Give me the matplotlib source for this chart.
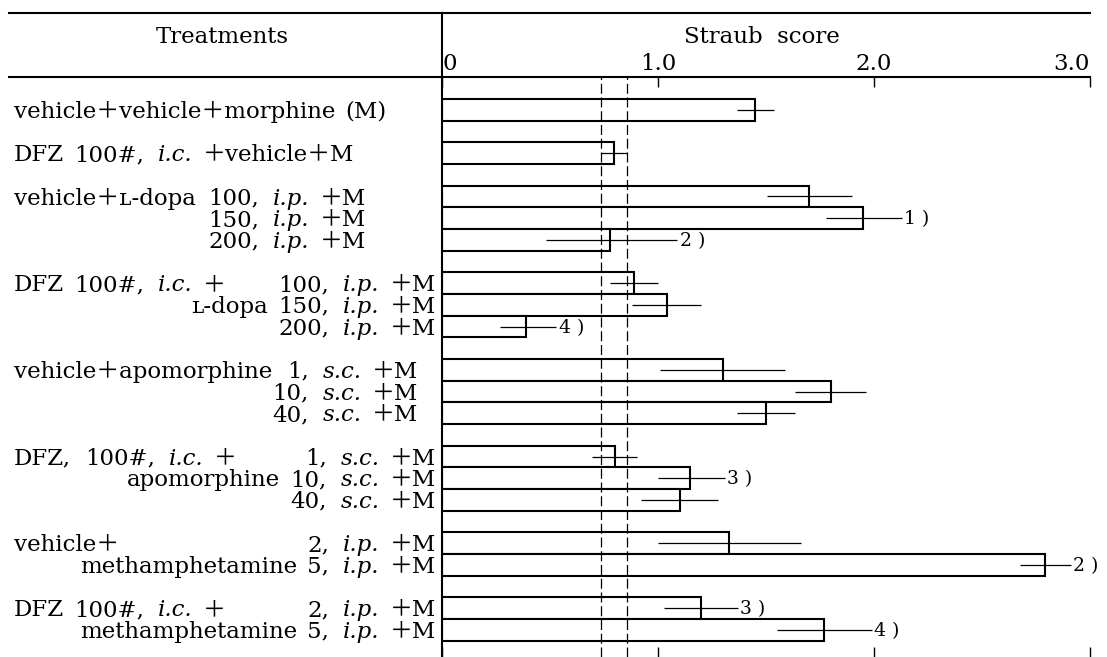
"""
Straub score chart: horizontal bars with SE lines, table-style labels
"""

import matplotlib
matplotlib.use('Agg')
import matplotlib.pyplot as plt
from matplotlib.lines import Line2D
from matplotlib.transforms import blended_transform_factory

W, H = 1107, 657
FAMILY = ['DejaVu Serif', 'Noto Sans CJK JP', 'DejaVu Sans']
FS = 16.5
SPACE_PX = 10   # wide word spacing of the original typesetting
COMMA_PX = 4    # extra room after a comma

# bar data (slot = row position, gaps between groups)
slots = [0, 2, 4, 5, 6, 8, 9, 10, 12, 13, 14, 16, 17, 18, 20, 21, 23, 24]
means = [1.45, 0.795, 1.70, 1.95, 0.78, 0.89, 1.04, 0.39, 1.30,
         1.80, 1.50, 0.80, 1.15, 1.10, 1.33, 2.79, 1.20, 1.77]
sems = [0.085, 0.061, 0.196, 0.17, 0.30, 0.11, 0.16, 0.12, 0.29,
        0.165, 0.135, 0.104, 0.15, 0.18, 0.33, 0.115, 0.17, 0.22]

# significance marks: bar index, text, end of the leader line
mark_idx = [3, 4, 7, 12, 15, 16, 17]
mark_text = ['1 )', '2 )', '4 )', '3 )', '2 )', '3 )', '4 )']
mark_end = [2.13, 1.09, 0.53, 1.31, 2.91, 1.37, 1.99]

tick_vals = [0, 1, 2, 3]
tick_labels = ['0', '1.0', '2.0', '3.0']

# row labels, italic parts between underscores
left_labels = {
    0: 'vehicle＋vehicle＋morphine (M)',
    2: 'DFZ 100#, _i.c._ ＋vehicle＋M',
    4: 'vehicle＋ʟ-dopa',
    8: 'DFZ 100#, _i.c._ ＋',
    12: 'vehicle＋apomorphine',
    16: 'DFZ, 100#, _i.c._ ＋',
    20: 'vehicle＋',
    23: 'DFZ 100#, _i.c._ ＋',
}
right_labels = {
    4: '100, _i.p._ ＋M',
    5: '150, _i.p._ ＋M',
    6: '200, _i.p._ ＋M',
    8: '100, _i.p._ ＋M',
    9: 'ʟ-dopa 150, _i.p._ ＋M',
    10: '200, _i.p._ ＋M',
    12: '1, _s.c._ ＋M',
    13: '10, _s.c._ ＋M',
    14: '40, _s.c._ ＋M',
    16: '1, _s.c._ ＋M',
    17: 'apomorphine 10, _s.c._ ＋M',
    18: '40, _s.c._ ＋M',
    20: '2, _i.p._ ＋M',
    21: 'methamphetamine 5, _i.p._ ＋M',
    23: '2, _i.p._ ＋M',
    24: 'methamphetamine 5, _i.p._ ＋M',
}

plt.rcParams['font.family'] = FAMILY

fig = plt.figure(figsize=(W / 100, H / 100), dpi=100)
fig.patch.set_facecolor('white')

X0, X3 = 442, 1090
Y_TOP_RULE, Y_HEAD = 12.7, 77.3
ax = fig.add_axes([X0 / W, 0, (X3 - X0) / W, 1 - Y_HEAD / H])

ax.barh(slots, means, height=1.0, left=0, facecolor='white',
        edgecolor='black', linewidth=1.5, zorder=2)

marks = dict(zip(mark_idx, zip(mark_text, mark_end)))
for i, (k, m, s) in enumerate(zip(slots, means, sems)):
    if i in marks:
        txt, end = marks[i]
        ax.hlines(k, m - s, end, color='black', linewidth=0.9, zorder=3)
        ax.text(end + 0.01, k + 0.05, txt, ha='left', va='center', fontsize=13.5)
    else:
        ax.hlines(k, m - s, m + s, color='black', linewidth=0.9, zorder=3)

# DFZ mean +/- SE band
for v in (means[1] - sems[1], means[1] + sems[1]):
    ax.axvline(v, color='black', linewidth=0.9, linestyle=(0, (8, 3)), zorder=4)

ax.set_xlim(0, 3)
ax.set_ylim(25.25, -1.5)
ax.set_yticks([])
ax.spines['right'].set_visible(False)
ax.spines['bottom'].set_visible(False)
ax.spines['top'].set_linewidth(1.5)
ax.spines['left'].set_linewidth(1.5)
ax.set_xticks(tick_vals, labels=tick_labels)
ax.tick_params(axis='x', top=True, bottom=True, labeltop=True, labelbottom=False,
               direction='in', length=7, width=1, pad=2, labelsize=FS)
lbls = ax.get_xticklabels()
lbls[0].set_ha('left')
lbls[-1].set_ha('right')

# table rules
fig.add_artist(Line2D([9 / W, X3 / W], [1 - Y_TOP_RULE / H] * 2, color='black', linewidth=1.5))
fig.add_artist(Line2D([9 / W, X0 / W], [1 - Y_HEAD / H] * 2, color='black', linewidth=1.5))
fig.add_artist(Line2D([X0 / W, X0 / W], [1 - Y_TOP_RULE / H, 1 - Y_HEAD / H],
                      color='black', linewidth=1.5))

fig.text(222 / W, 1 - 43 / H, 'Treatments', ha='center', va='baseline', fontsize=FS)
fig.text(762 / W, 1 - 43 / H, 'Straub  score', ha='center', va='baseline', fontsize=FS)

# rich labels
renderer = fig.canvas.get_renderer()
trans = blended_transform_factory(fig.transFigure, ax.transData)


def text_width(s, style):
    t = fig.text(0, 0, '|' + s + '|', fontsize=FS, style=style)
    w = t.get_window_extent(renderer).width
    t.remove()
    t = fig.text(0, 0, '||', fontsize=FS, style=style)
    w0 = t.get_window_extent(renderer).width
    t.remove()
    return w - w0


def draw_label(x_px, k, spec, ha):
    # split on spaces too, so every gap gets the wide spacing
    pieces = []
    for i, p in enumerate(spec.split('_')):
        style = 'italic' if i % 2 else 'normal'
        words = p.split(' ')
        for j, w in enumerate(words):
            if j > 0:
                pieces.append((None, style))
            if w:
                pieces.append((w, style))
    layout = []
    total = 0.0
    prev = ''
    for w, style in pieces:
        if w is None:
            total += SPACE_PX + (COMMA_PX if prev.endswith(',') else 0)
            continue
        layout.append((w, style, total))
        total += text_width(w, style)
        prev = w
    start = x_px if ha == 'left' else x_px - total
    for w, style, off in layout:
        fig.text((start + off) / W, k + 0.37, w, fontsize=FS, style=style,
                 ha='left', va='baseline', transform=trans)


for k, spec in left_labels.items():
    draw_label(14, k, spec, 'left')

for k, spec in right_labels.items():
    if 4 <= k <= 6:
        col = 366
    elif 12 <= k <= 14:
        col = 418
    else:
        col = 436
    draw_label(col, k, spec, 'right')

fig.savefig('out.png', dpi=100, facecolor='white')
